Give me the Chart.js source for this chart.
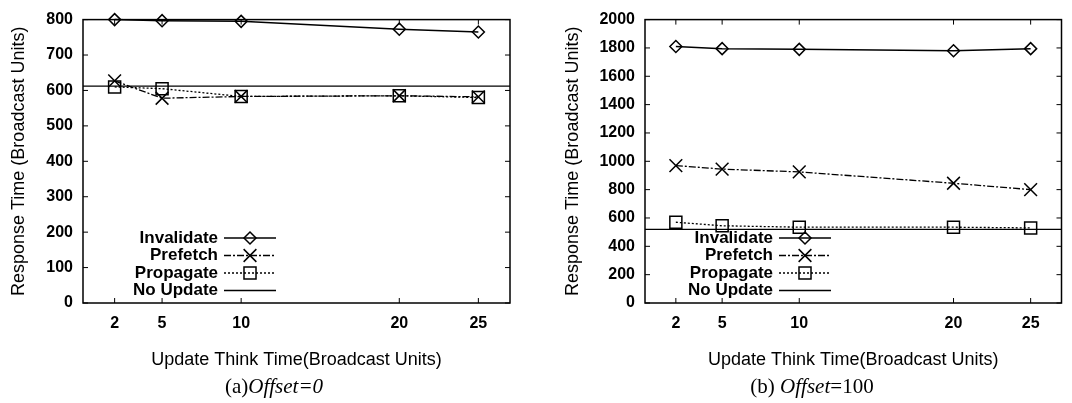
<!DOCTYPE html>
<html>
<head>
<meta charset="utf-8">
<script src="https://cdn.jsdelivr.net/npm/chart.js@4"></script>
<style>
  body { margin: 0; background: #fff; width: 1072px; height: 403px; overflow: hidden; position: relative; }
  .box { position: absolute; top: 0; height: 403px; }
  #boxA { left: 0; width: 530px; }
  #boxB { left: 530px; width: 542px; }
  .cap { position: absolute; top: 374px; line-height: 24px; font-family: 'Liberation Serif', 'Times New Roman', serif;
         font-size: 21px; color: #000; transform: translateX(-50%); white-space: nowrap; }
</style>
</head>
<body>
<div class="box" id="boxA"><canvas id="chartA"></canvas></div>
<div class="box" id="boxB"><canvas id="chartB"></canvas></div>
<div class="cap" style="left:274px">(a)<i>Offset=0</i></div>
<div class="cap" style="left:812px">(b) <i>Offset</i>=100</div>
<script>
var thinkTimes = [2, 5, 10, 20, 25];
var xTickValues = [2, 5, 10, 20, 25];
var xRange = [0, 27];

// (a) Offset=0
var invalidateA = [800, 797, 795, 773, 765];
var prefetchA = [627, 578, 583, 585, 582];
var propagateA = [610, 605, 583, 585, 580];
var noUpdateA = 612;

// (b) Offset=100
var invalidateB = [1810, 1795, 1790, 1780, 1795];
var prefetchB = [970, 945, 925, 845, 800];
var propagateB = [570, 545, 535, 535, 530];
var noUpdateB = 520;

var seriesNames = ['Invalidate', 'Prefetch', 'Propagate', 'No Update'];

Chart.defaults.font.family = "'Liberation Sans', Arial, sans-serif";
Chart.defaults.color = '#000';

var tickFont = { size: 16, weight: 'bold' };

function pts(ys) {
    return thinkTimes.map(function (x, i) { return { x: x, y: ys[i] }; });
}

function buildDatasets(inv, pre, pro, none) {
    return [
        { label: seriesNames[0], data: pts(inv), borderColor: '#000', borderWidth: 1.5, pointStyle: 'rectRot',
          pointRadius: 6, pointBorderWidth: 1.5, pointBorderColor: '#000', pointBackgroundColor: 'rgba(0,0,0,0)', clip: false },
        { label: seriesNames[1], data: pts(pre), borderColor: '#000', borderWidth: 1.3, borderDash: [7, 2, 2, 2], pointStyle: 'crossRot',
          pointRadius: 9, pointBorderWidth: 1.5, pointBorderColor: '#000', clip: false },
        { label: seriesNames[2], data: pts(pro), borderColor: '#000', borderWidth: 1.3, borderDash: [2, 2], pointStyle: 'rect',
          pointRadius: 8.5, pointBorderWidth: 1.5, pointBorderColor: '#000', pointBackgroundColor: 'rgba(0,0,0,0)', clip: false },
        { label: seriesNames[3], data: [{ x: xRange[0], y: none }, { x: xRange[1], y: none }], borderColor: '#000',
          borderWidth: 1.3, pointRadius: 0, clip: false }
    ];
}

// frame + inward tick marks like gnuplot
var framePlugin = {
    id: 'frame',
    beforeDatasetsDraw: function (chart) {
        var ctx = chart.ctx, a = chart.chartArea;
        var xs = chart.scales.x, ys = chart.scales.y;
        ctx.save();
        ctx.strokeStyle = '#000';
        ctx.lineWidth = 1.5;
        ctx.setLineDash([]);
        ctx.strokeRect(a.left, a.top, a.right - a.left, a.bottom - a.top);
        ctx.lineWidth = 1;
        ctx.beginPath();
        xs.ticks.forEach(function (t) {
            var px = xs.getPixelForValue(t.value);
            ctx.moveTo(px, a.bottom); ctx.lineTo(px, a.bottom - 5);
            ctx.moveTo(px, a.top); ctx.lineTo(px, a.top + 5);
        });
        ys.ticks.forEach(function (t) {
            var py = ys.getPixelForValue(t.value);
            ctx.moveTo(a.left, py); ctx.lineTo(a.left + 5, py);
            ctx.moveTo(a.right, py); ctx.lineTo(a.right - 5, py);
        });
        ctx.stroke();
        ctx.restore();
    }
};

// legend inside the plot, text right-aligned with sample after it
var inLegendPlugin = {
    id: 'inLegend',
    afterDatasetsDraw: function (chart, args, opts) {
        var ctx = chart.ctx, a = chart.chartArea;
        var textRight = a.left + opts.textRight;
        ctx.save();
        ctx.font = 'bold 17px ' + Chart.defaults.font.family;
        ctx.textAlign = 'right';
        ctx.textBaseline = 'middle';
        ctx.fillStyle = '#000';
        chart.data.datasets.forEach(function (ds, i) {
            var y = a.bottom - opts.firstRow + i * opts.rowGap;
            ctx.fillText(ds.label, textRight, y);
            var x0 = textRight + 6, x1 = textRight + 58;
            ctx.strokeStyle = '#000';
            ctx.lineWidth = ds.borderWidth;
            ctx.setLineDash(ds.borderDash || []);
            ctx.beginPath(); ctx.moveTo(x0, y); ctx.lineTo(x1, y); ctx.stroke();
            ctx.setLineDash([]);
            if (ds.pointRadius > 0) {
                ctx.lineWidth = ds.pointBorderWidth;
                ctx.fillStyle = 'rgba(0,0,0,0)';
                Chart.helpers.drawPoint(ctx, { pointStyle: ds.pointStyle, radius: ds.pointRadius, rotation: 0, borderWidth: ds.pointBorderWidth }, (x0 + x1) / 2, y);
                ctx.fillStyle = '#000';
            }
        });
        ctx.restore();
    }
};

function makeChart(id, datasets, yMax, yStep, yWidth, yTitlePad, padRight, legendRight) {
    return new Chart(document.getElementById(id), {
        type: 'line',
        data: { datasets: datasets },
        options: {
            responsive: true,
            maintainAspectRatio: false,
            animation: false,
            layout: { padding: { top: 15, right: padRight, left: 0, bottom: 0 } },
            plugins: {
                legend: { display: false },
                tooltip: { enabled: false },
                inLegend: { textRight: legendRight, firstRow: 65, rowGap: 17.5 }
            },
            scales: {
                x: {
                    type: 'linear', min: xRange[0], max: xRange[1],
                    grid: { display: false, drawTicks: false },
                    border: { display: false },
                    afterBuildTicks: function (s) { s.ticks = xTickValues.map(function (v) { return { value: v }; }); },
                    afterFit: function (s) { s.height = 100; },
                    ticks: { padding: 11, font: tickFont, color: '#000', maxRotation: 0, autoSkip: false,
                             callback: function (v) { return String(v); } },
                    title: { display: true, text: 'Update Think Time(Broadcast Units)', font: { size: 18 }, color: '#000',
                             padding: { top: 0, bottom: 32 } }
                },
                y: {
                    min: 0, max: yMax,
                    grid: { display: false, drawTicks: false },
                    border: { display: false },
                    afterFit: function (s) { s.width = yWidth; },
                    ticks: { stepSize: yStep, padding: 10, font: tickFont, color: '#000',
                             callback: function (v) { return String(v); } },
                    title: { display: true, text: 'Response Time (Broadcast Units)', font: { size: 18 }, color: '#000',
                             padding: { top: yTitlePad, bottom: 0 } }
                }
            }
        },
        plugins: [framePlugin, inLegendPlugin]
    });
}

makeChart('chartA', buildDatasets(invalidateA, prefetchA, propagateA, noUpdateA), 800, 100, 83, 8, 20, 135);
makeChart('chartB', buildDatasets(invalidateB, prefetchB, propagateB, noUpdateB), 2000, 200, 115, 32, 10, 128);
</script>
</body>
</html>
